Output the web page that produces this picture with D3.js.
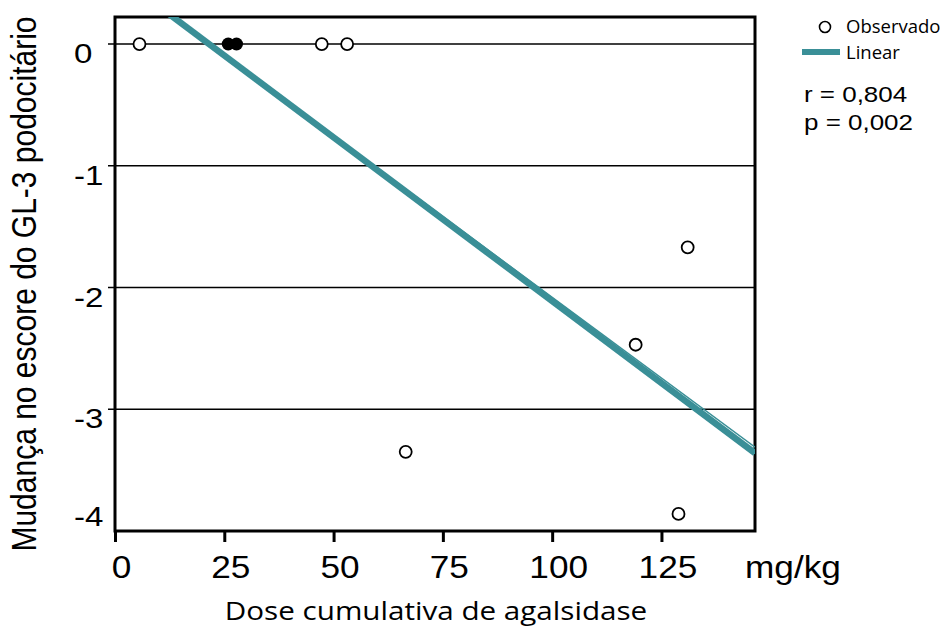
<!DOCTYPE html>
<html>
<head>
    <meta charset="utf-8">
    <title>Mudança no escore do GL-3 podocitário x dose cumulativa</title>
    <style>
        body { margin: 0; background: #fff; }
        text { font-family: "Liberation Sans", Arial, sans-serif; fill: #000; }
        .myriad { font-family: "Open Sans", "Noto Sans", sans-serif; }
    </style>
    <script src="https://cdn.jsdelivr.net/npm/d3@7"></script>
</head>
<body>
<script>
    // observed values (open circles)
    var openDose = [5.6, 47.3, 53.1, 66.5, 119.1, 128.9, 131.0];
    var openChange = [0, 0, 0, -3.35, -2.47, -3.86, -1.67];
    // filled circles
    var filledDose = [25.9, 27.8];
    var filledChange = [0, 0];
    // linear fit: [intercept, slope]
    var fitMain = [0.579, -0.02691];
    var fitEdge = [0.574, -0.02654];
    var xTicks = [0, 25, 50, 75, 100, 125];
    var yTicks = [0, -1, -2, -3, -4];
    var gridTicks = [0, -1, -2, -3];

    var teal = "#3a8f97";
    var SX = 1.18; // the original figure is stretched horizontally

    var box = { left: 115, right: 755, top: 17, bottom: 531 };

    var x = d3.scaleLinear().domain([0, 146.4]).range([box.left, box.right]);
    var y = d3.scaleLinear().domain([0.222, -4]).range([box.top, box.bottom]);

    var svg = d3.select("body").append("svg")
        .attr("width", 946)
        .attr("height", 634);

    svg.append("clipPath").attr("id", "plotclip")
        .append("rect")
        .attr("x", box.left).attr("y", box.top)
        .attr("width", box.right - box.left).attr("height", box.bottom - box.top);

    // horizontal grid lines (they also act as the y ticks)
    svg.selectAll(".grid")
        .data(gridTicks)
        .enter().append("line")
        .attr("class", "grid")
        .attr("x1", box.left - 7)
        .attr("x2", box.right)
        .attr("y1", function(d) { return y(d); })
        .attr("y2", function(d) { return y(d); })
        .attr("stroke", "#000")
        .attr("stroke-width", 1.6);

    // y labels
    svg.selectAll(".ylab")
        .data(yTicks)
        .enter().append("text")
        .attr("class", "ylab")
        .attr("font-size", 28)
        .attr("transform", function(d) {
            var off = d === d3.min(yTicks) ? -5 : 19;
            return "translate(74," + (y(d) + off) + ") scale(" + SX + ",1)";
        })
        .text(function(d) { return String(d); });

    // x axis
    var xAxis = svg.append("g")
        .attr("transform", "translate(0," + box.bottom + ")")
        .call(d3.axisBottom(x).tickValues(xTicks).tickSize(11).tickFormat(function(d) { return String(d); }));
    xAxis.select(".domain").remove();
    xAxis.selectAll(".tick line").attr("stroke", "#000").attr("stroke-width", 3);
    xAxis.selectAll(".tick text")
        .attr("y", 0).attr("dy", 0)
        .attr("font-size", 32)
        .attr("font-family", "Liberation Sans, Arial, sans-serif")
        .attr("fill", "#000")
        .attr("transform", "translate(6,47) scale(1.1,1)");

    svg.append("text")
        .attr("font-size", 32)
        .attr("transform", "translate(745,578) scale(1.1,1)")
        .text("mg/kg");

    // frame
    svg.append("rect")
        .attr("x", box.left).attr("y", box.top)
        .attr("width", box.right - box.left).attr("height", box.bottom - box.top)
        .attr("fill", "none")
        .attr("stroke", "#000")
        .attr("stroke-width", 3);

    // fit line
    var fitX = x.domain();
    var line = d3.line()
        .x(function(d) { return x(d[0]); })
        .y(function(d) { return y(d[1]); });
    var plot = svg.append("g").attr("clip-path", "url(#plotclip)");
    plot.append("path")
        .datum(fitX.map(function(v) { return [v, fitEdge[0] + fitEdge[1] * v]; }))
        .attr("d", line)
        .attr("fill", "none")
        .attr("stroke", teal)
        .attr("stroke-width", 1.3);
    plot.append("path")
        .datum(fitX.map(function(v) { return [v, fitMain[0] + fitMain[1] * v]; }))
        .attr("d", line)
        .attr("fill", "none")
        .attr("stroke", teal)
        .attr("stroke-width", 6.5);

    // points
    svg.selectAll(".open")
        .data(openDose)
        .enter().append("circle")
        .attr("class", "open")
        .attr("cx", function(d) { return x(d); })
        .attr("cy", function(d, i) { return y(openChange[i]); })
        .attr("r", 6)
        .attr("fill", "#fff")
        .attr("stroke", "#000")
        .attr("stroke-width", 1.8);
    svg.selectAll(".filled")
        .data(filledDose)
        .enter().append("circle")
        .attr("class", "filled")
        .attr("cx", function(d) { return x(d); })
        .attr("cy", function(d, i) { return y(filledChange[i]); })
        .attr("r", 6.5)
        .attr("fill", "#000");

    // axis titles
    svg.append("text")
        .attr("class", "myriad")
        .attr("font-size", 26)
        .attr("text-anchor", "middle")
        .attr("transform", "translate(436,620) scale(1.14,1)")
        .text("Dose cumulativa de agalsidase");

    svg.append("text")
        .attr("font-size", 30)
        .attr("text-anchor", "middle")
        .attr("transform", "translate(36,284) scale(" + SX + ",1) rotate(-90)")
        .text("Mudança no escore do GL-3 podocitário");

    // legend
    svg.append("circle")
        .attr("cx", 825).attr("cy", 27).attr("r", 5.5)
        .attr("fill", "#fff").attr("stroke", "#000").attr("stroke-width", 1.6);
    svg.append("text")
        .attr("class", "myriad")
        .attr("x", 846).attr("y", 33)
        .attr("font-size", 18.5)
        .text("Observado");
    svg.append("line")
        .attr("x1", 802).attr("x2", 840)
        .attr("y1", 52).attr("y2", 52)
        .attr("stroke", teal).attr("stroke-width", 6);
    svg.append("text")
        .attr("class", "myriad")
        .attr("x", 846).attr("y", 59)
        .attr("font-size", 18.5)
        .text("Linear");

    // statistics
    svg.append("text")
        .attr("font-size", 22)
        .attr("transform", "translate(804,102) scale(" + SX + ",1)")
        .text("r = 0,804");
    svg.append("text")
        .attr("font-size", 22)
        .attr("transform", "translate(804,130) scale(" + SX + ",1)")
        .text("p = 0,002");
</script>
</body>
</html>
